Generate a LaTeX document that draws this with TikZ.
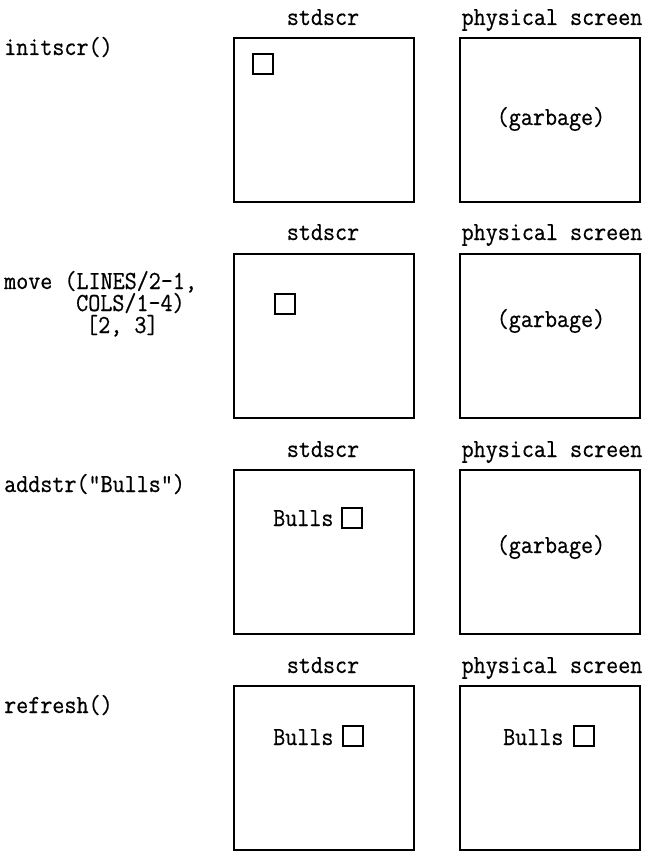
\documentclass[tikz,border=0pt]{standalone}
\usepackage{fontspec}
% slightly condensed, slightly heavier typewriter face
\newfontfamily\codefont[FakeStretch=0.9,FakeBold=0.6]{Latin Modern Mono}
\begin{document}
\begin{tikzpicture}[x=1pt,y=-1pt]
\tikzset{
  screen/.style={draw, line width=2.3pt, minimum width=180pt, minimum height=164pt,
                 inner sep=0pt, anchor=north west},
  cursor/.style={draw, line width=2.1pt, minimum size=20pt, inner sep=0pt, anchor=north west},
  mono/.style={font=\fontsize{26}{21}\codefont, inner sep=0pt},
  lbl/.style={mono, anchor=base west},
  head/.style={mono, anchor=base},
}
\useasboundingbox (0,0) rectangle (647,851);

% ---------- row 1: initscr() ----------
\node[lbl] (call1) at (4,55) {initscr()};
\node[head] (hs1) at (323,25) {stdscr};
\node[head] (hp1) at (552,25) {physical screen};
\node[screen] (s1) at (233,37) {};
\node[screen] (p1) at (459,37) {};
\node[cursor] (c1) at (252,53) {};
\node[mono, anchor=base] (g1) at (551,125) {(garbage)};

% ---------- row 2: move() ----------
\node[lbl] (call2a) at (4,289) {move (LINES/2-1,};
\node[lbl] (call2b) at (76,311) {COLS/1-4)};
\node[lbl] (call2c) at (86,333) {[2, 3]};
\node[head] (hs2) at (323,240) {stdscr};
\node[head] (hp2) at (552,240) {physical screen};
\node[screen] (s2) at (233,253) {};
\node[screen] (p2) at (459,253) {};
\node[cursor] (c2) at (274,293) {};
\node[mono, anchor=base] (g2) at (551,327) {(garbage)};

% ---------- row 3: addstr() ----------
\node[lbl] (call3) at (4,492) {addstr("Bulls")};
\node[head] (hs3) at (323,457) {stdscr};
\node[head] (hp3) at (552,457) {physical screen};
\node[screen] (s3) at (233,469) {};
\node[screen] (p3) at (459,469) {};
\node[lbl] (b3) at (273,526) {Bulls};
\node[cursor] (c3) at (341,507) {};
\node[mono, anchor=base] (g3) at (551,553) {(garbage)};

% ---------- row 4: refresh() ----------
\node[lbl] (call4) at (4,713) {refresh()};
\node[head] (hs4) at (323,673) {stdscr};
\node[head] (hp4) at (552,673) {physical screen};
\node[screen] (s4) at (233,685) {};
\node[screen] (p4) at (459,685) {};
\node[lbl] (b4s) at (273,745) {Bulls};
\node[cursor] (c4s) at (342,725) {};
\node[lbl] (b4p) at (503,745) {Bulls};
\node[cursor] (c4p) at (573,725) {};
\end{tikzpicture}
\end{document}
